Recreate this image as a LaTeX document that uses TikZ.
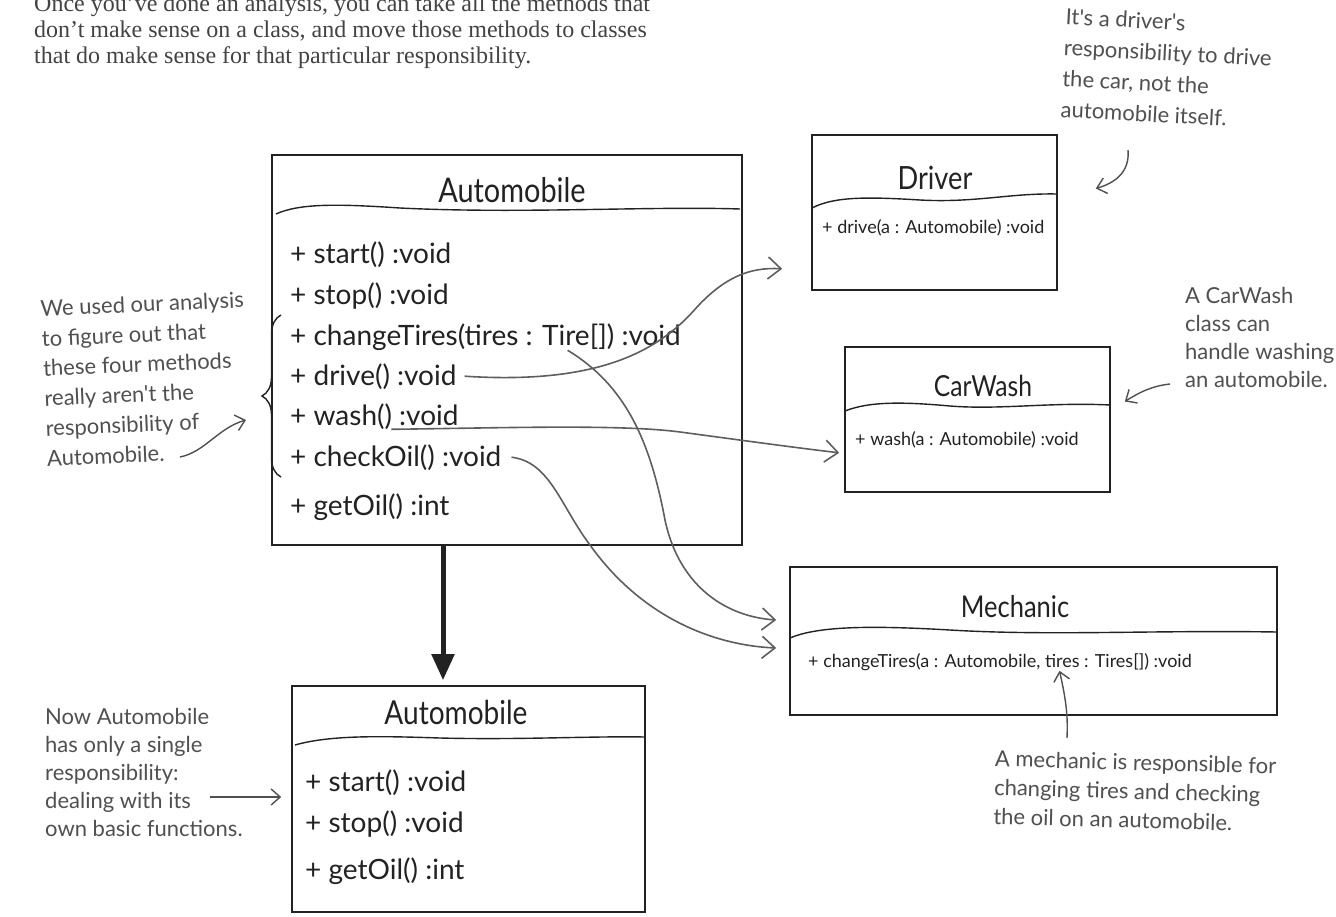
\documentclass[tikz,border=0pt]{standalone}
\usepackage{fontspec}
\setmainfont{Liberation Serif}
\newfontfamily\hand{Lato}
\newfontfamily\handtall[FakeStretch=0.85]{Lato}
\usetikzlibrary{positioning,calc,arrows.meta,decorations.pathreplacing}

\definecolor{ink}{HTML}{222222}
\definecolor{pencil}{HTML}{505050}
\definecolor{wire}{HTML}{5E5E5E}

\begin{document}
\begin{tikzpicture}[
    x=1pt, y=-1pt,
    cls/.style={draw=ink, line width=1.6pt, inner sep=0pt},   % class box
    divider/.style={draw=ink, line width=1.4pt},               % wavy line under the class name
    title/.style={font=\handtall\fontsize{#1}{#1}\selectfont, text=ink, anchor=base, inner sep=0pt},
    title/.default=29,
    meth/.style={font=\hand\fontsize{28}{28}\selectfont, text=ink, anchor=base west, inner sep=0pt},
    smeth/.style={font=\hand\fontsize{18}{18}\selectfont, text=ink, anchor=base west, inner sep=0pt},
    note/.style={font=\hand\fontsize{22}{28}\selectfont, text=pencil, align=left, inner sep=0pt, anchor=north west},
    intro/.style={font=\fontsize{24}{26}\selectfont, text=ink!85, align=left, inner sep=0pt, anchor=north west},
    wire/.style={draw=wire, line width=1.6pt, -{Straight Barb[length=13pt,width=22pt]}},
    hint/.style={draw=pencil, line width=1.4pt, -{Straight Barb[length=9pt,width=16pt]}},
    heavy/.style={draw=ink, line width=5pt, -{Triangle[length=26pt,width=22pt]}}
  ]

% --- page ---
    \fill[white] (0,0) rectangle (1336,916);
    \useasboundingbox (0,0) rectangle (1336,916);

% --- intro text, first line cut by the page edge ---
    \node[intro] (intro) at (34,-5) {Once you've done an analysis, you can take all the methods that\\don't make sense on a class, and move those methods to classes\\that do make sense for that particular responsibility.};

% --- Automobile before the split ---
    \node[cls, minimum width=470pt, minimum height=390pt] (autoA) at (507,350) {};
    \node[title=34] (autoAt) at (512,202) {Automobile};
    \draw[divider] (276,214) .. controls (300,203) and (340,204) .. (400,208) .. controls (520,214) and (650,206) .. (740,209);
    \node[meth] (mStart) at (290,263) {+ start() :void};
    \node[meth] (mStop)  at ([yshift=-41pt]mStart.base west) {+ stop() :void};
    \node[meth] (mTires) at ([yshift=-41pt]mStop.base west)  {+ changeTires(tires : Tire[]) :void};
    \node[meth] (mDrive) at ([yshift=-40pt]mTires.base west) {+ drive() :void};
    \node[meth] (mWash)  at ([yshift=-40pt]mDrive.base west) {+ wash() :void};
    \node[meth] (mCheck) at ([yshift=-41pt]mWash.base west)  {+ checkOil() :void};
    \node[meth] (mGet)   at ([yshift=-49pt]mCheck.base west) {+ getOil() :int};

% brace round the four methods that move out
    \draw[ink, line width=1.4pt, decorate, decoration={brace, amplitude=19pt}] (281,477) -- (281,315);

% --- Driver ---
    \node[cls, minimum width=245pt, minimum height=155pt] (drv) at (934.5,212.5) {};
    \node[title=32] (drvT) at (935,189) {Driver};
    \draw[divider] (812,208) .. controls (835,196) and (870,197) .. (920,200) .. controls (975,203) and (1010,193) .. (1057,194);
    \node[smeth] (drvM) at (822,233) {+ drive(a : Automobile) :void};

% --- CarWash ---
    \node[cls, minimum width=265pt, minimum height=145pt] (wsh) at (977.5,419.5) {};
    \node[title=29] (wshT) at (983,396) {CarWash};
    \draw[divider] (845,411) .. controls (870,401) and (905,402) .. (950,406) .. controls (1000,410) and (1050,402) .. (1110,405);
    \node[smeth] (wshM) at (855,445) {+ wash(a : Automobile) :void};

% --- Mechanic ---
    \node[cls, minimum width=487pt, minimum height=148pt] (mech) at (1033.5,641) {};
    \node[title=30] (mechT) at (1015,617) {Mechanic};
    \draw[divider] (790,638) .. controls (820,625) and (880,626) .. (950,630) .. controls (1050,636) and (1150,630) .. (1277,632);
    \node[smeth] (mechM) at (808,667) {+ changeTires(a : Automobile, tires : Tires[]) :void};

% --- Automobile after the split ---
    \node[cls, minimum width=353pt, minimum height=226pt] (autoB) at (468.5,799) {};
    \node[title=33] (autoBt) at (456,724) {Automobile};
    \draw[divider] (295,745) .. controls (330,735) and (380,736) .. (440,738) .. controls (520,740) and (590,736) .. (645,737);
    \node[meth] (nStart) at (305,791) {+ start() :void};
    \node[meth] (nStop)  at ([yshift=-41pt]nStart.base west) {+ stop() :void};
    \node[meth] (nGet)   at ([yshift=-47pt]nStop.base west)  {+ getOil() :int};

% --- split arrow ---
    \draw[heavy] ([xshift=-64pt]autoA.south) -- ([xshift=-25.5pt,yshift=5pt]autoB.north);

% --- methods moved to their own classes ---
    \coordinate (driveIn) at ([shift={(-29,-22)}]drv.south west);
    \coordinate (washIn)  at ([shift={(-5,-40)}]wsh.south west);
    \coordinate (tiresIn) at ([shift={(-13,-21)}]mech.west);
    \coordinate (oilIn)   at ([shift={(-13,7)}]mech.west);

    \draw[wire] ([xshift=8pt]mDrive.east) .. controls (600,385) and (660,350) .. (697,307) .. controls (725,277) and (750,267) .. (driveIn);
    \draw[wire] ($(mWash.south west)!0.6!(mWash.south east)$) .. controls (500,428) and (620,424) .. (680,432) .. controls (740,440) and (790,447) .. (washIn);
    \draw[wire] ($(mTires.south west)!0.71!(mTires.south east)$) .. controls (625,385) and (650,440) .. (665,520) .. controls (680,590) and (730,617) .. (tiresIn);
    \draw[wire] ([xshift=10pt]mCheck.east) .. controls (550,462) and (560,505) .. (590,545) .. controls (640,615) and (710,645) .. (oilIn);

% --- notes ---
    \node[note, rotate=-3, font=\hand\fontsize{22}{31}\selectfont] (drvNote) at (1066,8) {It's a driver's\\responsibility to drive\\the car, not the\\automobile itself.};
    \coordinate (drvTail) at (1128,150);
    \draw[hint] (drvTail) .. controls (1130,172) and (1115,183) .. ([shift={(38,-24)}]drv.east);

    \node[note] (washNote) at (1185,287) {A CarWash\\class can\\handle washing\\an automobile.};
    \coordinate (washTail) at (1170,384);
    \draw[hint] (washTail) .. controls (1152,386) and (1140,392) .. ([shift={(14,-18)}]wsh.east);

    \node[note, rotate=2.5, font=\hand\fontsize{22}{30}\selectfont] (leftNote) at (40,300) {We used our analysis\\to figure out that\\these four methods\\really aren't the\\responsibility of\\Automobile.};
    \coordinate (leftTail) at (180,457);
    \draw[hint] (leftTail) .. controls (205,452) and (218,428) .. (246,420);

    \node[note] (nowNote) at (45,708) {Now Automobile\\has only a single\\responsibility:\\dealing with its\\own basic functions.};
    \coordinate (nowTail) at (210,797);
    \draw[hint] (nowTail) -- ([shift={(-10,-2)}]autoB.west);

    \node[note, rotate=-1.5, font=\hand\fontsize{22}{29}\selectfont] (mechNote) at (995,750) {A mechanic is responsible for\\changing tires and checking\\the oil on an automobile.};
    \coordinate (mechTail) at (1067,738);
    \draw[hint] (mechTail) .. controls (1068,715) and (1066,700) .. ([shift={(26,-45)}]mech.south);

\end{tikzpicture}
\end{document}
